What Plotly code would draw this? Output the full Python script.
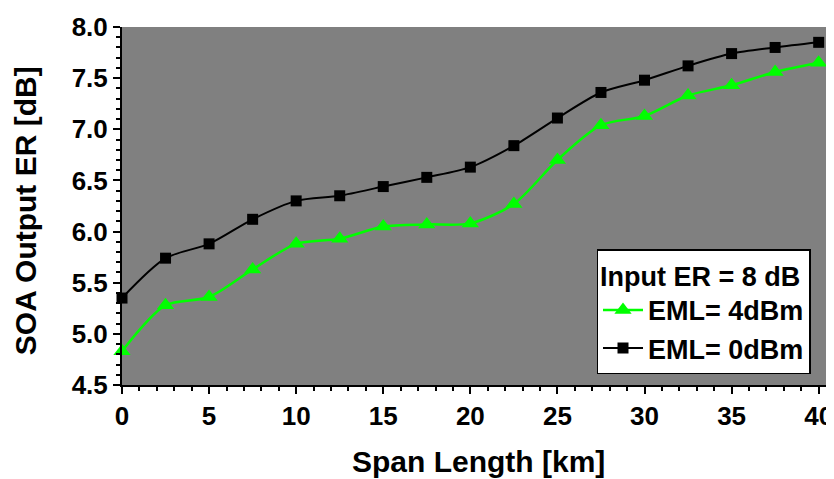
import plotly.graph_objects as go

span_km = [0, 2.5, 5, 7.5, 10, 12.5, 15, 17.5, 20, 22.5, 25, 27.5, 30, 32.5, 35, 37.5, 40]
er_eml_4dbm = [4.83, 5.28, 5.36, 5.63, 5.88, 5.93, 6.05, 6.07, 6.08, 6.27, 6.70, 7.04, 7.13, 7.33, 7.43, 7.56, 7.65]
er_eml_0dbm = [5.35, 5.74, 5.88, 6.12, 6.30, 6.35, 6.44, 6.53, 6.63, 6.84, 7.11, 7.36, 7.48, 7.62, 7.74, 7.80, 7.85]

FONT = "Liberation Sans, Arial, sans-serif"

fig = go.Figure()
fig.add_trace(go.Scatter(
    x=span_km, y=er_eml_4dbm, name="EML= 4dBm", mode="lines+markers",
    line=dict(color="#00ff00", width=2.5, shape="spline", smoothing=0.8),
    marker=dict(symbol="triangle-up", size=15, color="#00ff00"),
    cliponaxis=False,
))
fig.add_trace(go.Scatter(
    x=span_km, y=er_eml_0dbm, name="EML= 0dBm", mode="lines+markers",
    line=dict(color="black", width=2, shape="spline", smoothing=0.8),
    marker=dict(symbol="square", size=11, color="black"),
    cliponaxis=False,
))

fig.update_layout(
    width=826, height=471,
    margin=dict(l=114, r=0, t=19, b=94, autoexpand=False),
    paper_bgcolor="white", plot_bgcolor="#808080",
    font=dict(family=FONT, size=26, color="black", weight="bold"),
    showlegend=True,
    legend=dict(
        title=dict(text="Input ER = 8 dB", font=dict(family=FONT, size=27, weight="bold")),
        font=dict(family=FONT, size=27, weight="bold"),
        bgcolor="white", bordercolor="black", borderwidth=1.5,
        x=0.967, xanchor="right", y=0.03, yanchor="bottom",
        tracegroupgap=0, itemwidth=40,
    ),
    annotations=[
        dict(text="Span Length [km]", xref="paper", yref="paper", x=0.5, y=-0.215,
             xanchor="center", yanchor="middle", showarrow=False,
             font=dict(family=FONT, size=30, weight="bold")),
        dict(text="SOA Output ER [dB]", xref="paper", yref="paper", x=-0.136, y=0.486,
             xanchor="center", yanchor="middle", showarrow=False, textangle=-90,
             font=dict(family=FONT, size=30, weight="bold")),
    ],
)
fig.update_xaxes(
    range=[0, 40.88], tickmode="linear", tick0=0, dtick=5,
    showline=True, linecolor="black", linewidth=2, mirror=False,
    ticks="outside", ticklen=7, tickwidth=2, tickcolor="black",
    minor=dict(ticks="outside", dtick=1, ticklen=4, tickwidth=1.5, tickcolor="black", showgrid=False),
    showgrid=False, zeroline=False, automargin=False,
    tickfont=dict(family=FONT, size=26, weight="bold"),
)
fig.update_yaxes(
    range=[4.5, 8.0], tickmode="linear", tick0=4.5, dtick=0.5, tickformat=".1f",
    showline=True, linecolor="black", linewidth=2, mirror=False,
    ticks="outside", ticklen=7, tickwidth=2, tickcolor="black",
    minor=dict(ticks="outside", dtick=0.1, ticklen=4, tickwidth=1.5, tickcolor="black", showgrid=False),
    showgrid=False, zeroline=False, automargin=False,
    tickfont=dict(family=FONT, size=26, weight="bold"),
)

fig.write_html("out.html")
